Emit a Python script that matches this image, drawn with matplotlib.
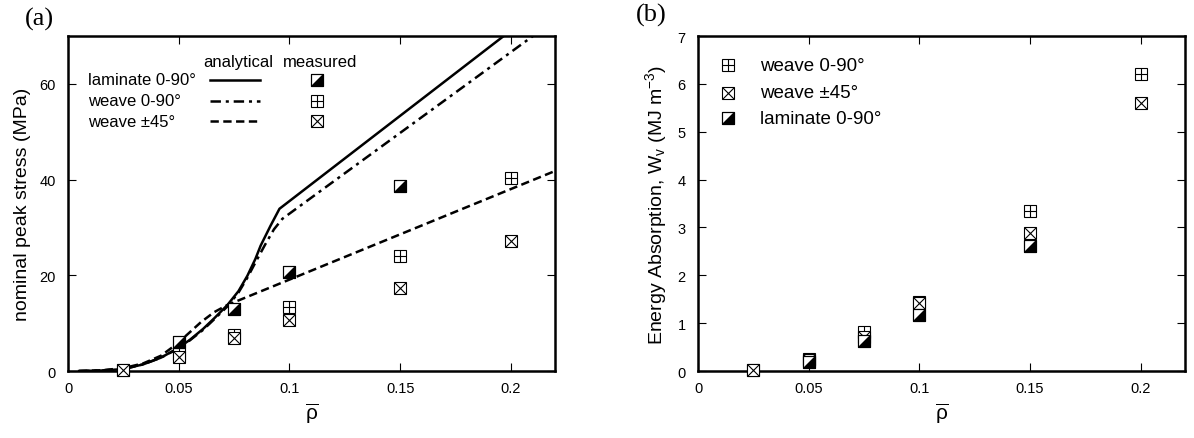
import matplotlib

matplotlib.use("Agg")

import matplotlib.pyplot as plt  # noqa: E402
from matplotlib.path import Path  # noqa: E402

plt.rcParams.update(
    {
        "font.family": ["Liberation Sans", "DejaVu Sans"],
        "mathtext.fontset": "custom",
        "mathtext.rm": "Liberation Sans",
        "mathtext.it": "Liberation Sans:italic",
        "lines.scale_dashes": False,
        "axes.linewidth": 1.8,
    }
)

# measured points (both panels)
rho_meas = [0.025, 0.05, 0.075, 0.1, 0.15, 0.2]
rho_lam = [0.05, 0.075, 0.1, 0.15]

stress_weave090 = [0.3, 3.6, 7.6, 13.3, 24.0, 40.4]
stress_weave45 = [0.3, 3.0, 7.0, 10.6, 17.3, 27.1]
stress_lam = [6.1, 13.0, 20.7, 38.7]

energy_weave090 = [0.03, 0.25, 0.82, 1.45, 3.34, 6.2]
energy_weave45 = [0.03, 0.22, 0.72, 1.42, 2.88, 5.6]
energy_lam = [0.18, 0.62, 1.18, 2.62]

# analytical curves (left panel)
rho_an_lam = [0.005, 0.015, 0.025, 0.034, 0.042, 0.049, 0.055, 0.061, 0.066,
              0.072, 0.077, 0.081, 0.0846, 0.087, 0.0914, 0.0955, 0.1968]
stress_an_lam = [0.0, 0.1, 0.4, 1.4, 2.8, 4.6, 6.5, 8.8, 11.0,
                 13.8, 16.7, 19.9, 23.4, 26.2, 30.3, 33.9, 70.0]

rho_an_weave090 = [0.005, 0.015, 0.025, 0.034, 0.042, 0.049, 0.055, 0.061, 0.066,
                   0.072, 0.077, 0.081, 0.085, 0.089, 0.093, 0.0968, 0.21]
stress_an_weave090 = [0.0, 0.1, 0.4, 1.4, 2.8, 4.5, 6.4, 8.6, 10.8,
                      13.5, 16.4, 19.5, 23.0, 26.4, 29.6, 31.8, 70.0]

rho_an_weave45 = [0.005, 0.015, 0.025, 0.034, 0.042, 0.049, 0.055, 0.06, 0.066,
                  0.072, 0.22]
stress_an_weave45 = [0.0, 0.15, 0.6, 1.6, 3.2, 5.6, 8.1, 10.2, 12.3,
                     13.8, 41.8]

series_names = ["laminate 0-90°", "weave 0-90°", "weave ±45°"]

PLUS = Path([(-1, 0), (1, 0), (0, -1), (0, 1)],
            [Path.MOVETO, Path.LINETO, Path.MOVETO, Path.LINETO])
CROSS = Path([(-1, -1), (1, 1), (-1, 1), (1, -1)],
             [Path.MOVETO, Path.LINETO, Path.MOVETO, Path.LINETO])
HALF = Path([(-1, -1), (1, -1), (1, 1), (-1, -1)],
            [Path.MOVETO, Path.LINETO, Path.LINETO, Path.CLOSEPOLY])

MS = 8.3
STYLES = {
    "solid": dict(linestyle="-"),
    "dashdot": dict(dashes=(7.5, 3.5, 2.2, 3.5)),
    "dashed": dict(dashes=(6.0, 3.2)),
}


def measured(ax, x, y, kind, z, **kw):
    """Square marker with a plus, a cross or a filled lower-right half."""
    base = dict(linestyle="none", markersize=MS, markeredgecolor="black",
                markeredgewidth=0.8, clip_on=False, **kw)
    ax.plot(x, y, marker="s", markerfacecolor="white", zorder=z, **base)
    if kind == "half":
        base["markeredgewidth"] = 0
        ax.plot(x, y, marker=HALF, markerfacecolor="black", zorder=z + 0.05, **base)
        base["markeredgewidth"] = 0.8
        ax.plot(x, y, marker="s", markerfacecolor="none", zorder=z + 0.06, **base)
    else:
        ax.plot(x, y, marker=PLUS if kind == "plus" else CROSS,
                markerfacecolor="none", zorder=z + 0.05, **base)


def style_axes(ax):
    ax.tick_params(direction="in", top=True, right=True, length=6, width=0.8,
                   labelsize=10.5)
    ax.tick_params(axis="x", pad=7)
    ax.tick_params(axis="y", pad=9)
    ax.set_xlim(0, 0.22)
    ax.set_xticks([0, 0.05, 0.1, 0.15, 0.2], ["0", "0.05", "0.1", "0.15", "0.2"])
    ax.set_xlabel(r"$\overline{\mathrm{\rho}}$", fontsize=15, labelpad=4)


fig = plt.figure(figsize=(11.94, 4.39), dpi=100)
ax1 = fig.add_axes([0.0570, 0.1526, 0.4079, 0.7631])
ax2 = fig.add_axes([0.5846, 0.1526, 0.4079, 0.7631])

# ---- (a) nominal peak stress
lw = 1.8
ax1.plot(rho_an_lam, stress_an_lam, color="black", lw=lw, **STYLES["solid"])
ax1.plot(rho_an_weave090, stress_an_weave090, color="black", lw=lw, **STYLES["dashdot"])
ax1.plot(rho_an_weave45, stress_an_weave45, color="black", lw=lw, **STYLES["dashed"])
measured(ax1, rho_meas, stress_weave090, "plus", 3.0)
measured(ax1, rho_meas, stress_weave45, "cross", 3.2)
measured(ax1, rho_lam, stress_lam, "half", 3.4)
style_axes(ax1)
ax1.set_ylim(0, 70)
ax1.set_yticks([0, 20, 40, 60])
ax1.set_ylabel("nominal peak stress (MPa)", fontsize=14, labelpad=6)

# hand-built legend table
leg_fs = 12
tr = ax1.transAxes
ax1.text(0.349, 0.925, "analytical", transform=tr, ha="center", va="center", fontsize=leg_fs)
ax1.text(0.517, 0.925, "measured", transform=tr, ha="center", va="center", fontsize=leg_fs)
rows_y = [0.869, 0.806, 0.746]
line_styles = ["solid", "dashdot", "dashed"]
marker_kinds = ["half", "plus", "cross"]
for name, yy, ls, mk in zip(series_names, rows_y, line_styles, marker_kinds):
    ax1.text(0.041, yy, name, transform=tr, ha="left", va="center", fontsize=leg_fs)
    ax1.plot([0.292, 0.394], [yy, yy], color="black", lw=lw, transform=tr, **STYLES[ls])
    measured(ax1, [0.511], [yy], mk, 4.0, transform=tr)

# ---- (b) energy absorption
measured(ax2, rho_meas, energy_weave090, "plus", 3.0)
measured(ax2, rho_meas, energy_weave45, "cross", 3.2)
measured(ax2, rho_lam, energy_lam, "half", 3.4)
style_axes(ax2)
ax2.set_ylim(0, 7)
ax2.set_yticks(range(8))
ax2.set_ylabel(r"Energy Absorption, W$_\mathregular{v}$ (MJ m$^\mathregular{-3}$)",
               fontsize=14, labelpad=6)

tr2 = ax2.transAxes
rows_y2 = [0.913, 0.830, 0.755]
for name, yy, mk in zip(["weave 0-90°", "weave ±45°", "laminate 0-90°"], rows_y2,
                        ["plus", "cross", "half"]):
    measured(ax2, [0.062], [yy], mk, 4.0, transform=tr2)
    ax2.text(0.127, yy, name, transform=tr2, ha="left", va="center", fontsize=13.5)

fig.text(39 / 1194, 1 - 19 / 439, "(a)", family="Liberation Serif", fontsize=19,
         ha="center", va="center")
fig.text(651 / 1194, 1 - 15 / 439, "(b)", family="Liberation Serif", fontsize=19,
         ha="center", va="center")

fig.savefig("out.png", dpi=100)
